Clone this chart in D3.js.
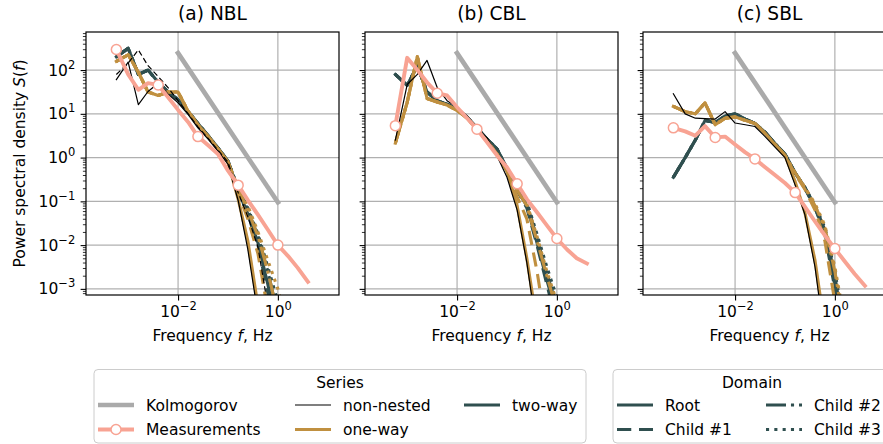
<!DOCTYPE html>
<html>
<head>
<meta charset="utf-8">
<script src="https://cdn.jsdelivr.net/npm/d3@7"></script>
<style>
  body { margin: 0; background: #fff; }
  svg { font-family: "DejaVu Sans", sans-serif; }
</style>
</head>
<body>
<div id="chart"></div>
<script>
// frequency bins (Hz); model tails start at index 12
var freq = [0.00058, 0.001, 0.0016, 0.0025, 0.004, 0.0063, 0.01, 0.016, 0.025, 0.04,
            0.063, 0.1, 0.16, 0.25, 0.4, 0.63, 1.0, 1.6, 2.5, 4.0];
var tailStart = 12;
var measMarkerIdx = [0, 4, 8, 12, 16];

// Kolmogorov -5/3 reference line
var kolFreq = [0.01, 1.0];
var kolS = [245, 0.095];

// all spectra below are log10 S(f)
// (a) NBL
var nblMeas = [2.47, 1.9, 1.55, 1.7, 1.66, 1.38, 1.09, 0.81, 0.48, 0.28, 0.08, -0.3,
               -0.63, -0.97, -1.31, -1.65, -2.0, -2.25, -2.52, -2.84];
var nblNonNestedLow = [1.78, 2.18, 1.21, 1.51, 1.70, 1.45, 1.25, 0.98, 0.68, 0.42, 0.15, -0.15];
var nblNonNestedChildLow = [1.9, 2.16, 2.46, 2.1, 1.85, 1.6, 1.3, 1.0, 0.7, 0.44, 0.17, -0.1];
var nblOneWayLow = [2.2, 2.35, 1.95, 1.5, 1.42, 1.5, 1.5, 1.05, 0.75, 0.48, 0.2, -0.1];
var nblTwoWayLow = [2.3, 2.5, 1.9, 2.0, 1.72, 1.5, 1.32, 1.05, 0.78, 0.5, 0.22, -0.08];
var nblNonNestedRootTail = [-0.98, -2.1, -3.6, null, null, null];
var nblNonNestedChild1Tail = [-0.8, -1.35, -2.05, -3.4, null, null];
var nblOneWayRootTail = [-0.95, -1.9, -3.4, null, null, null];
var nblOneWayChild1Tail = [-0.8, -1.4, -2.2, -3.5, null, null];
var nblOneWayChild2Tail = [-0.7, -1.2, -1.8, -2.6, -3.6, null];
var nblOneWayChild3Tail = [-0.7, -1.1, -1.7, -2.35, -3.0, -3.9];
var nblTwoWayRootTail = [-0.75, -1.3, -1.95, -2.9, -4.0, null];
var nblTwoWayChild1Tail = [-0.75, -1.3, -2.0, -3.1, -4.2, null];
var nblTwoWayChild2Tail = [-0.7, -1.2, -1.8, -2.6, -3.6, null];
var nblTwoWayChild3Tail = [-0.7, -1.15, -1.75, -2.5, -3.3, -4.2];

// (b) CBL
var cblMeas = [0.73, 2.28, 2.0, 1.72, 1.47, 1.42, 1.15, 0.9, 0.65, 0.35, 0.05, -0.22,
               -0.6, -0.95, -1.25, -1.55, -1.85, -2.1, -2.3, -2.42];
var cblNonNestedLow = [0.4, 1.67, 1.9, 2.22, 1.6, 1.3, 1.15, 0.95, 0.68, 0.45, 0.04, -0.45];
var cblOneWayLow = [0.33, 1.26, 2.31, 1.35, 1.27, 1.2, 1.08, 0.9, 0.65, 0.38, 0.08, -0.3];
var cblTwoWayLow = [1.9, 1.65, 2.1, 1.5, 1.3, 1.22, 1.1, 0.92, 0.68, 0.42, 0.2, -0.25];
var cblNonNestedRootTail = [-1.2, -2.4, -4.0, null, null, null];
var cblOneWayRootTail = [-1.1, -2.3, -3.8, null, null, null];
var cblOneWayChild1Tail = [-0.9, -1.4, -2.6, -4.0, null, null];
var cblOneWayChild2Tail = [-0.75, -1.1, -1.9, -2.7, -3.5, null];
var cblOneWayChild3Tail = [-0.7, -1.05, -1.8, -2.6, -3.3, null];
var cblTwoWayRootTail = [-0.75, -1.1, -1.95, -2.8, -3.6, null];
var cblTwoWayChild1Tail = [-0.75, -1.15, -2.0, -2.9, -3.8, null];
var cblTwoWayChild2Tail = [-0.7, -1.05, -1.85, -2.65, -3.4, null];
var cblTwoWayChild3Tail = [-0.7, -1.0, -1.75, -2.5, -3.2, -4.0];

// (c) SBL
var sblMeas = [0.68, 0.6, 0.5, 0.72, 0.46, 0.48, 0.3, 0.12, -0.03, -0.22, -0.4, -0.58,
               -0.8, -1.12, -1.46, -1.78, -2.08, -2.38, -2.66, -2.93];
var sblNonNestedLow = [1.46, 1.0, 0.9, 0.89, 0.88, 1.05, 0.79, 0.75, 0.71, 0.48, 0.24, 0.0];
var sblOneWayLow = [1.17, 1.05, 1.0, 1.25, 0.75, 0.9, 0.93, 0.85, 0.78, 0.55, 0.3, 0.05];
var sblTwoWayLow = [-0.45, 0.0, 0.4, 0.85, 0.8, 0.95, 1.0, 0.88, 0.78, 0.58, 0.32, 0.08];
var sblNonNestedRootTail = [-0.63, -1.3, -2.5, -4.2, null, null];
var sblOneWayRootTail = [-0.55, -1.25, -2.35, -3.9, null, null];
var sblOneWayChild1Tail = [-0.38, -0.72, -1.2, -1.9, -3.3, null];
var sblOneWayChild2Tail = [-0.35, -0.68, -1.1, -1.6, -2.6, -4.0];
var sblOneWayChild3Tail = [-0.35, -0.68, -1.05, -1.55, -2.5, -3.8];
var sblTwoWayRootTail = [-0.35, -0.68, -1.15, -1.7, -2.9, -4.5];
var sblTwoWayChild1Tail = [-0.35, -0.7, -1.15, -1.75, -3.0, -4.6];
var sblTwoWayChild2Tail = [-0.35, -0.68, -1.1, -1.65, -2.7, -4.2];
var sblTwoWayChild3Tail = [-0.35, -0.68, -1.1, -1.6, -2.6, -4.0];

var xMajorExp = [-2, 0];
var yMajorExp = [-3, -2, -1, 0, 1, 2];

var seriesNames = ["Kolmogorov", "Measurements", "non-nested", "one-way", "two-way"];
var domainNames = ["Root", "Child #1", "Child #2", "Child #3"];

// styles
var colors = {"Kolmogorov": "#aaaaaa", "Measurements": "#f8a393", "non-nested": "#000000",
              "one-way": "#c09040", "two-way": "#2f4f4f"};
var widths = {"Kolmogorov": 4.7, "Measurements": 3.9, "non-nested": 1.2, "one-way": 3.1, "two-way": 3.1};
var dashUnits = {"Root": null, "Child #1": [4.6, 2.5], "Child #2": [6.45, 1.6, 1, 1.6], "Child #3": [1, 1.68]};
function dashFor(domain, lw) {
  var u = dashUnits[domain];
  return u ? u.map(function(v) { return (v * lw).toFixed(2); }).join(",") : null;
}

var panels = [
  {title: "(a) NBL", left: 86, meas: nblMeas, lines: [
    ["two-way", "Root", nblTwoWayLow, nblTwoWayRootTail],
    ["two-way", "Child #1", nblTwoWayLow, nblTwoWayChild1Tail],
    ["two-way", "Child #2", nblTwoWayLow, nblTwoWayChild2Tail],
    ["two-way", "Child #3", nblTwoWayLow, nblTwoWayChild3Tail],
    ["one-way", "Root", nblOneWayLow, nblOneWayRootTail],
    ["one-way", "Child #1", nblOneWayLow, nblOneWayChild1Tail],
    ["one-way", "Child #2", nblOneWayLow, nblOneWayChild2Tail],
    ["one-way", "Child #3", nblOneWayLow, nblOneWayChild3Tail],
    ["non-nested", "Root", nblNonNestedLow, nblNonNestedRootTail],
    ["non-nested", "Child #1", nblNonNestedChildLow, nblNonNestedChild1Tail]
  ]},
  {title: "(b) CBL", left: 365, meas: cblMeas, lines: [
    ["two-way", "Root", cblTwoWayLow, cblTwoWayRootTail],
    ["two-way", "Child #1", cblTwoWayLow, cblTwoWayChild1Tail],
    ["two-way", "Child #2", cblTwoWayLow, cblTwoWayChild2Tail],
    ["two-way", "Child #3", cblTwoWayLow, cblTwoWayChild3Tail],
    ["one-way", "Root", cblOneWayLow, cblOneWayRootTail],
    ["one-way", "Child #1", cblOneWayLow, cblOneWayChild1Tail],
    ["one-way", "Child #2", cblOneWayLow, cblOneWayChild2Tail],
    ["one-way", "Child #3", cblOneWayLow, cblOneWayChild3Tail],
    ["non-nested", "Root", cblNonNestedLow, cblNonNestedRootTail]
  ]},
  {title: "(c) SBL", left: 643, meas: sblMeas, lines: [
    ["two-way", "Root", sblTwoWayLow, sblTwoWayRootTail],
    ["two-way", "Child #1", sblTwoWayLow, sblTwoWayChild1Tail],
    ["two-way", "Child #2", sblTwoWayLow, sblTwoWayChild2Tail],
    ["two-way", "Child #3", sblTwoWayLow, sblTwoWayChild3Tail],
    ["one-way", "Root", sblOneWayLow, sblOneWayRootTail],
    ["one-way", "Child #1", sblOneWayLow, sblOneWayChild1Tail],
    ["one-way", "Child #2", sblOneWayLow, sblOneWayChild2Tail],
    ["one-way", "Child #3", sblOneWayLow, sblOneWayChild3Tail],
    ["non-nested", "Root", sblNonNestedLow, sblNonNestedRootTail]
  ]}
];

var W = 883, H = 444;
var axW = 253, axH = 263, axTop = 32;
var fs = 15.5;

var x = d3.scaleLog().domain([Math.pow(10, -3.845), Math.pow(10, 1.225)]).range([0, axW]);
var y = d3.scaleLog().domain([Math.pow(10, -3.14), Math.pow(10, 2.87)]).range([axH, 0]);

var line = d3.line()
  .x(function(d) { return x(d[0]); })
  .y(function(d) { return y(Math.pow(10, d[1])); });

function buildLine(low, tail) {
  var pts = low.map(function(v, i) { return [freq[i], v]; });
  tail.forEach(function(v, i) { if (v !== null) pts.push([freq[tailStart + i], v]); });
  return pts;
}

function powText(sel, e) {
  sel.text(null);
  sel.append("tspan").text("10");
  sel.append("tspan").attr("dy", -7).attr("font-size", 11.5)
    .text(e < 0 ? "\u2212" + (-e) : String(e));
}

var svg = d3.select("#chart").append("svg")
  .attr("width", W).attr("height", H);
var defs = svg.append("defs");

var yMajor = yMajorExp.map(function(e) { return Math.pow(10, e); });
var yMinor = y.ticks().filter(function(v) {
  return yMajor.every(function(m) { return Math.abs(v / m - 1) > 1e-6; });
});
var xMajor = xMajorExp.map(function(e) { return Math.pow(10, e); });

panels.forEach(function(p, pi) {
  var g = svg.append("g").attr("transform", "translate(" + p.left + "," + axTop + ")");
  defs.append("clipPath").attr("id", "clip" + pi)
    .append("rect").attr("width", axW).attr("height", axH);

  // grid
  g.selectAll(".hgrid").data(yMajor).enter().append("line")
    .attr("x1", 0).attr("x2", axW)
    .attr("y1", function(d) { return y(d); }).attr("y2", function(d) { return y(d); })
    .attr("stroke", "#b0b0b0").attr("stroke-width", 1.2);
  g.selectAll(".vgrid").data(xMajor).enter().append("line")
    .attr("y1", 0).attr("y2", axH)
    .attr("x1", function(d) { return x(d); }).attr("x2", function(d) { return x(d); })
    .attr("stroke", "#b0b0b0").attr("stroke-width", 1.2);

  var plot = g.append("g").attr("clip-path", "url(#clip" + pi + ")");

  // Kolmogorov
  plot.append("path")
    .datum(kolFreq.map(function(f, i) { return [f, Math.log10(kolS[i])]; }))
    .attr("d", line).attr("fill", "none")
    .attr("stroke", colors["Kolmogorov"]).attr("stroke-width", widths["Kolmogorov"])
    .attr("stroke-linecap", "square");

  // model spectra
  p.lines.forEach(function(l) {
    var lw = widths[l[0]];
    var dash = dashFor(l[1], lw);
    plot.append("path")
      .datum(buildLine(l[2], l[3]))
      .attr("d", line).attr("fill", "none")
      .attr("stroke", colors[l[0]]).attr("stroke-width", lw)
      .attr("stroke-dasharray", dash)
      .attr("stroke-linejoin", "round")
      .attr("stroke-linecap", dash ? "butt" : "square");
  });

  // measurements
  var mpts = p.meas.map(function(v, i) { return [freq[i], v]; });
  plot.append("path").datum(mpts)
    .attr("d", line).attr("fill", "none")
    .attr("stroke", colors["Measurements"]).attr("stroke-width", widths["Measurements"])
    .attr("stroke-linejoin", "round").attr("stroke-linecap", "square");
  plot.selectAll(".mk").data(measMarkerIdx.map(function(i) { return mpts[i]; }))
    .enter().append("circle")
    .attr("cx", function(d) { return x(d[0]); })
    .attr("cy", function(d) { return y(Math.pow(10, d[1])); })
    .attr("r", 5).attr("fill", "#fff")
    .attr("stroke", colors["Measurements"]).attr("stroke-width", 1.5);

  // axes
  var ya = g.append("g").call(d3.axisLeft(y).tickValues(yMajor).tickSize(5.4).tickPadding(5.4));
  var yaMinor = g.append("g").call(d3.axisLeft(y).tickValues(yMinor).tickSize(3.1).tickFormat(""));
  var xa = g.append("g").attr("transform", "translate(0," + axH + ")")
    .call(d3.axisBottom(x).tickValues(xMajor).tickSize(5.4).tickPadding(5.4));
  [ya, yaMinor, xa].forEach(function(a) {
    a.select(".domain").remove();
    a.attr("font-family", null).attr("font-size", null);
    a.selectAll("line").attr("stroke", "#000");
  });
  yaMinor.selectAll("line").attr("stroke-width", 0.8);
  ya.selectAll("line").attr("stroke-width", 1.1);
  xa.selectAll("line").attr("stroke-width", 1.1);
  xa.selectAll(".tick text").attr("font-size", fs).attr("fill", "#000")
    .each(function(d, i) { powText(d3.select(this), xMajorExp[i]); });
  if (pi === 0) {
    ya.selectAll(".tick text").attr("font-size", fs).attr("fill", "#000")
      .each(function(d, i) { powText(d3.select(this), yMajorExp[i]); });
  } else {
    ya.selectAll(".tick text").remove();
  }

  // spines
  g.append("rect").attr("width", axW).attr("height", axH)
    .attr("fill", "none").attr("stroke", "#000").attr("stroke-width", 1.2);

  // title and x label
  g.append("text").attr("x", axW / 2).attr("y", -12)
    .attr("text-anchor", "middle").attr("font-size", 18.6).text(p.title);
  var xl = g.append("text").attr("x", axW / 2).attr("y", axH + 46)
    .attr("text-anchor", "middle").attr("font-size", fs);
  xl.append("tspan").text("Frequency ");
  xl.append("tspan").attr("font-style", "italic").text("f");
  xl.append("tspan").text(", Hz");
});

// y label
var yl = svg.append("text")
  .attr("transform", "translate(25," + (axTop + axH / 2) + ") rotate(-90)")
  .attr("text-anchor", "middle").attr("font-size", fs);
yl.append("tspan").text("Power spectral density ");
yl.append("tspan").attr("font-style", "italic").text("S");
yl.append("tspan").text("(");
yl.append("tspan").attr("font-style", "italic").text("f");
yl.append("tspan").text(")");

// legends
function legendBox(x0, w, title, titleX) {
  var g = svg.append("g");
  g.append("rect").attr("x", x0).attr("y", 369.5).attr("width", w).attr("height", 73.5)
    .attr("rx", 4).attr("fill", "#fff").attr("fill-opacity", 0.8)
    .attr("stroke", "#cccccc").attr("stroke-width", 1);
  g.append("text").attr("x", titleX).attr("y", 387.5).attr("text-anchor", "middle")
    .attr("font-size", fs).text(title);
  return g;
}
var rowY = [405, 429.5];
var handleLen = 36;

var lg1 = legendBox(94, 492, "Series", 340);
var seriesCols = [98, 295, 464];
seriesNames.forEach(function(name, i) {
  var col = Math.floor(i / 2), row = i % 2;
  var hx = seriesCols[col], cy = rowY[row];
  lg1.append("line").attr("x1", hx).attr("x2", hx + handleLen)
    .attr("y1", cy).attr("y2", cy)
    .attr("stroke", colors[name]).attr("stroke-width", widths[name]);
  if (name === "Measurements") {
    lg1.append("circle").attr("cx", hx + handleLen / 2).attr("cy", cy).attr("r", 5)
      .attr("fill", "#fff").attr("stroke", colors[name]).attr("stroke-width", 1.5);
  }
  lg1.append("text").attr("x", hx + 48).attr("y", cy + 5.6)
    .attr("font-size", fs).text(name);
});

var lg2 = legendBox(613, 280, "Domain", 752);
var domainCols = [617, 766];
domainNames.forEach(function(name, i) {
  var col = Math.floor(i / 2), row = i % 2;
  var hx = domainCols[col], cy = rowY[row];
  lg2.append("line").attr("x1", hx).attr("x2", hx + handleLen)
    .attr("y1", cy).attr("y2", cy)
    .attr("stroke", colors["two-way"]).attr("stroke-width", widths["two-way"])
    .attr("stroke-dasharray", dashFor(name, widths["two-way"]));
  lg2.append("text").attr("x", hx + 48).attr("y", cy + 5.6)
    .attr("font-size", fs).text(name);
});
</script>
</body>
</html>
